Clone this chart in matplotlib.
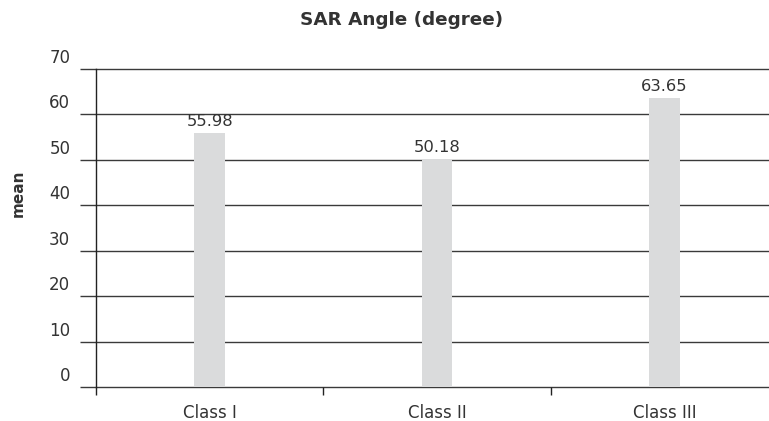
import matplotlib
matplotlib.use("Agg")
import matplotlib.pyplot as plt
import matplotlib.transforms as mtransforms

categories = ["Class I", "Class II", "Class III"]
means = [55.98, 50.18, 63.65]
yticks = [0, 10, 20, 30, 40, 50, 60, 70]

W, H = 769, 421
fig = plt.figure(figsize=(W / 100, H / 100), dpi=100)
left, right = 96 / W, 778 / W
bottom, top = (H - 387) / H, (H - 69) / H
ax = fig.add_axes([left, bottom, right - left, top - bottom])

txt_color = "#333333"
grid_color = "#3a3a3a"
x = list(range(len(categories)))
bars = ax.bar(x, means, width=0.136, color="#dadbdc", zorder=3)
for xi, v in zip(x, means):
    ax.annotate(f"{v:.2f}", (xi, v), xytext=(0, 3), textcoords="offset points",
                ha="center", va="bottom", fontsize=11.8, color=txt_color, zorder=4)

ax.set_xlim(-0.5, len(categories) - 0.5)
ax.set_ylim(0, 70)
ax.set_yticks(yticks)
ax.set_yticklabels([str(t) for t in yticks])
for t in yticks:
    ax.axhline(t, color=grid_color, linewidth=1.0, zorder=1, clip_on=False)
ax.tick_params(axis="y", length=11.5, width=1.0, color=grid_color, pad=7,
               labelsize=12, labelcolor=txt_color)
offset = mtransforms.ScaledTranslation(0, 13 / 100, fig.dpi_scale_trans)
for lbl in ax.get_yticklabels():
    lbl.set_transform(lbl.get_transform() + offset)

ax.set_xticks([i - 0.5 for i in range(len(categories) + 1)])
ax.set_xticklabels([""] * (len(categories) + 1))
ax.set_xticks(x, minor=True)
ax.set_xticklabels(categories, minor=True)
ax.tick_params(axis="x", which="major", length=6, width=1.0, color="#222222")
ax.tick_params(axis="x", which="minor", length=0, pad=12, labelsize=12,
               labelcolor=txt_color)

for s in ["top", "right", "bottom"]:
    ax.spines[s].set_visible(False)
ax.spines["left"].set_color("#222222")
ax.spines["left"].set_linewidth(1.0)
ax.spines["left"].set_zorder(5)

fig.text(402 / W, 1 - 20 / H, "SAR Angle (degree)", ha="center", va="center",
         fontsize=13.2, fontweight="bold", color=txt_color)
fig.text(18 / W, 1 - 193 / H, "mean", ha="center", va="center", rotation=90,
         fontsize=11, fontweight="bold", color=txt_color)

fig.savefig("out.png", dpi=100)
